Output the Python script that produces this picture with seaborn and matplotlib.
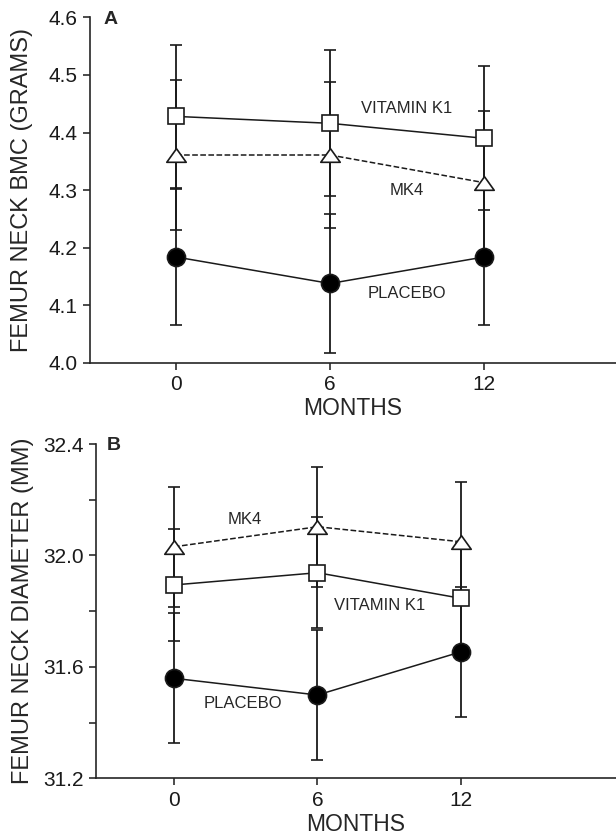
import numpy as np
import pandas as pd
import matplotlib
matplotlib.use("Agg")
import matplotlib.pyplot as plt
from matplotlib.path import Path
import seaborn as sns

### Data
months = [0, 6, 12]

# Panel A: femur neck BMC (grams), mean and SE
bmc_k1 = [4.428, 4.416, 4.390]
bmc_k1_err = [0.124, 0.127, 0.125]
bmc_mk4 = [4.361, 4.361, 4.313]
bmc_mk4_err = [0.130, 0.127, 0.124]
bmc_placebo = [4.184, 4.138, 4.184]
bmc_placebo_err = [0.118, 0.120, 0.118]

# Panel B: femur neck diameter (mm)
dia_k1 = [31.894, 31.938, 31.846]
dia_k1_err = [0.200, 0.200, 0.200]
dia_mk4 = [32.031, 32.103, 32.049]
dia_mk4_err = [0.216, 0.215, 0.216]
dia_placebo = [31.559, 31.499, 31.654]
dia_placebo_err = [0.233, 0.233, 0.233]

###############################################################################
sns.set_style("ticks")
plt.rcParams['font.family'] = ['Liberation Sans', 'DejaVu Sans']

fig = plt.figure(figsize=(6.16, 8.35), dpi=100)
axA = fig.add_axes([90/616, 1-363/835, 526/616, (363-17.3)/835])
axB = fig.add_axes([96/616, 1-778.3/835, 520/616, (778.3-444)/835])

# flat open triangle, closed path
tri = Path([(-1, -0.7), (1, -0.7), (0, 0.7), (-1, -0.7)],
           [Path.MOVETO, Path.LINETO, Path.LINETO, Path.CLOSEPOLY])
styles = {
    'k1': dict(marker='s', ms=12, mfc='white', ls='-'),
    'mk4': dict(marker=tri, ms=14, mfc='white', ls='--'),
    'placebo': dict(marker='o', ms=13, mfc='black', ls='-'),
}
dark = '#1a1a1a'


def draw(ax, series):
    for key, vals, errs in series:
        ax.errorbar(months, vals, yerr=errs, fmt='none', ecolor=dark,
                    elinewidth=1.3, capsize=4.2, capthick=1.2, zorder=1)
    for key, vals, errs in series:
        st = styles[key]
        df = pd.DataFrame({'m': months, 'v': vals})
        sns.lineplot(data=df, x='m', y='v', ax=ax, color=dark, lw=1.1,
                     marker=st['marker'], markersize=st['ms'],
                     markerfacecolor=st['mfc'], markeredgecolor=dark,
                     markeredgewidth=1.2, linestyle=st['ls'],
                     dashes=(4, 4) if st['ls'] == '--' else None, zorder=3)


def style_axis(ax):
    sns.despine(ax=ax)
    ax.spines['left'].set_linewidth(1.2)
    ax.spines['bottom'].set_linewidth(1.2)
    ax.tick_params(axis='both', which='both', direction='out', length=5,
                   width=1.1, labelsize=15, colors='#1a1a1a', pad=4)
    ax.set_xticks(months)
    ax.set_xlabel('MONTHS', fontsize=16.5, labelpad=2)


draw(axA, [('k1', bmc_k1, bmc_k1_err), ('mk4', bmc_mk4, bmc_mk4_err),
           ('placebo', bmc_placebo, bmc_placebo_err)])
axA.set_xlim(-3.35, 17.14)
axA.set_ylim(4.0, 4.6)
axA.set_yticks(np.arange(4.0, 4.61, 0.1))
axA.set_yticklabels(['4.0', '4.1', '4.2', '4.3', '4.4', '4.5', '4.6'])
style_axis(axA)
axA.set_ylabel('FEMUR NECK BMC (GRAMS)', fontsize=17)
axA.yaxis.set_label_coords(-0.108, 0.5)
axA.text(9.0, 4.442, 'VITAMIN K1', fontsize=12, ha='center', va='center')
axA.text(9.0, 4.299, 'MK4', fontsize=12, ha='center', va='center')
axA.text(9.0, 4.121, 'PLACEBO', fontsize=12, ha='center', va='center')
axA.text(0.04, 0.995, 'A', transform=axA.transAxes, fontsize=14,
         fontweight='bold', ha='center', va='center')

draw(axB, [('k1', dia_k1, dia_k1_err), ('mk4', dia_mk4, dia_mk4_err),
           ('placebo', dia_placebo, dia_placebo_err)])
axB.set_xlim(-3.26, 18.48)
axB.set_ylim(31.2, 32.4)
axB.set_yticks([31.2, 31.6, 32.0, 32.4])
axB.set_yticklabels(['31.2', '31.6', '32.0', '32.4'])
axB.set_yticks([31.4, 31.8, 32.2], minor=True)
style_axis(axB)
axB.set_ylabel('FEMUR NECK DIAMETER (MM)', fontsize=17)
axB.yaxis.set_label_coords(-0.12, 0.5)
axB.text(2.97, 32.13, 'MK4', fontsize=12, ha='center', va='center')
axB.text(8.6, 31.822, 'VITAMIN K1', fontsize=12, ha='center', va='center')
axB.text(2.9, 31.469, 'PLACEBO', fontsize=12, ha='center', va='center')
axB.text(0.035, 0.995, 'B', transform=axB.transAxes, fontsize=14,
         fontweight='bold', ha='center', va='center')

fig.savefig('out.png', dpi=100)
